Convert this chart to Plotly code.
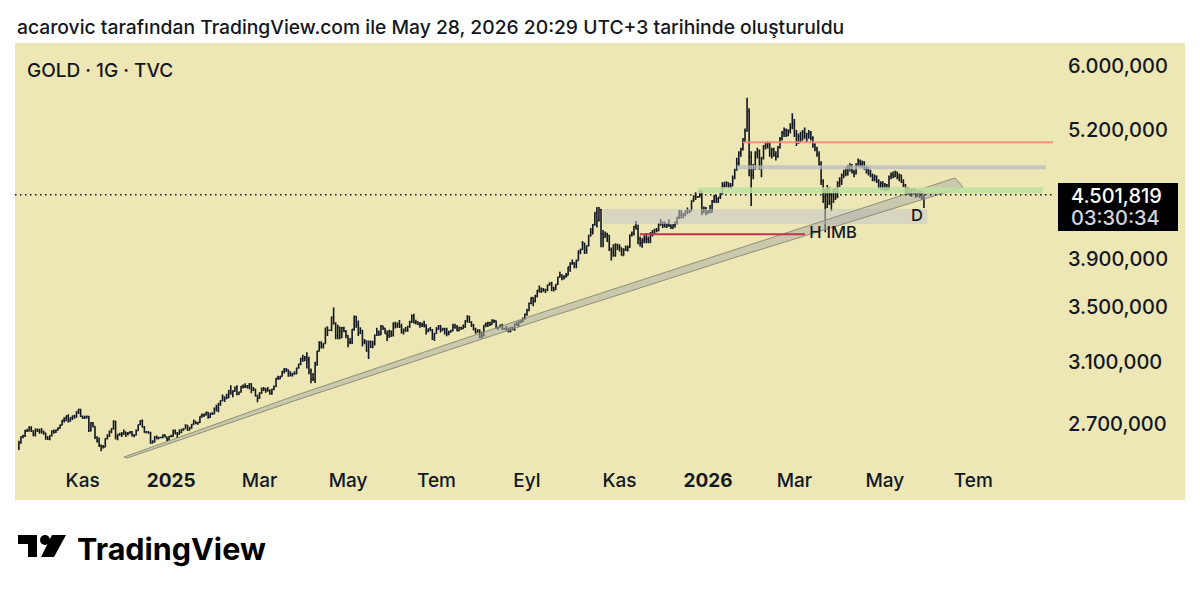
import pandas as pd
import plotly.graph_objects as go

# ---------------- data (daily OHLC, GOLD · 1G · TVC) ----------------
FIRST_DAY = "2024-09-19"
LAST_DAY = "2026-05-28"

opens = [
    2560, 2587, 2622, 2628, 2657, 2657, 2672, 2658,  # 2024-09
    2634, 2663, 2659, 2656, 2653, 2644, 2622, 2608, 2630, 2657, 2649, 2662, 2674, 2692, 2721, 2720, 2748, 2715, 2736, 2747, 2743, 2774, 2788,  # 2024-10
    2744, 2736, 2736, 2743, 2659, 2706, 2685, 2619, 2598, 2573, 2565, 2563, 2612, 2631, 2651, 2670, 2716, 2625, 2633, 2638, 2639,  # 2024-11
    2650, 2640, 2643, 2650, 2632, 2633, 2660, 2694, 2718, 2680, 2648, 2652, 2646, 2587, 2593, 2622, 2612, 2618, 2618, 2633, 2621, 2606,  # 2024-12
    2624, 2625, 2658, 2640, 2637, 2648, 2661, 2670, 2690, 2663, 2677, 2696, 2715, 2702, 2708, 2745, 2755, 2754, 2770, 2740, 2763, 2759, 2794,  # 2025-01
    2798, 2815, 2842, 2866, 2856, 2861, 2908, 2897, 2904, 2928, 2883, 2898, 2935, 2933, 2939, 2936, 2951, 2915, 2916, 2876,  # 2025-02
    2858, 2893, 2918, 2920, 2910, 2910, 2889, 2916, 2934, 2988, 2984, 3001, 3035, 3048, 3044, 3023, 3011, 3020, 3019, 3057, 3085,  # 2025-03
    3123, 3113, 3134, 3114, 3037, 2982, 2983, 3083, 3175, 3237, 3210, 3229, 3343, 3327, 3327, 3424, 3381, 3288, 3349, 3319, 3344, 3317,  # 2025-04
    3288, 3239, 3240, 3334, 3431, 3365, 3306, 3325, 3236, 3249, 3177, 3240, 3203, 3230, 3290, 3314, 3295, 3357, 3342, 3301, 3288, 3318,  # 2025-05
    3289, 3380, 3353, 3375, 3353, 3310, 3325, 3322, 3355, 3386, 3433, 3385, 3388, 3370, 3369, 3368, 3368, 3323, 3333, 3328, 3274,  # 2025-06
    3303, 3338, 3357, 3326, 3337, 3336, 3302, 3313, 3324, 3355, 3344, 3324, 3347, 3338, 3350, 3397, 3431, 3388, 3368, 3337, 3314, 3327, 3275,  # 2025-07
    3289, 3363, 3373, 3381, 3369, 3396, 3398, 3342, 3348, 3356, 3335, 3336, 3332, 3315, 3347, 3339, 3372, 3365, 3393, 3397, 3416,  # 2025-08
    3448, 3476, 3533, 3578, 3545, 3586, 3636, 3626, 3641, 3634, 3643, 3679, 3690, 3660, 3643, 3685, 3746, 3763, 3736, 3749, 3760, 3833,  # 2025-09
    3858, 3866, 3856, 3886, 3960, 3985, 4040, 3976, 4017, 4110, 4142, 4208, 4326, 4251, 4356, 4125, 4095, 4126, 4112, 3982, 3952, 3930, 4025,  # 2025-10
    4003, 4000, 3931, 3980, 3977, 4001, 4115, 4128, 4194, 4171, 4080, 4045, 4067, 4078, 4077, 4065, 4135, 4130, 4165, 4155,  # 2025-11
    4218, 4230, 4205, 4200, 4208, 4197, 4189, 4209, 4228, 4279, 4300, 4304, 4303, 4340, 4330, 4340, 4444, 4487, 4480, 4480, 4532, 4330, 4370,  # 2025-12
    4320, 4335, 4330, 4440, 4490, 4455, 4475, 4510, 4600, 4590, 4620, 4600, 4590, 4670, 4760, 4830, 4940, 4980, 5080, 5190, 5420, 4900,  # 2026-01
    4700, 4780, 4940, 4960, 4800, 4880, 5010, 5030, 5050, 4930, 4980, 4920, 4900, 5000, 5100, 5170, 5200, 5140, 5190, 5230,  # 2026-02
    5270, 5150, 5060, 5130, 5090, 5170, 5130, 5150, 5170, 5110, 5030, 4990, 4930, 4820, 4640, 4480, 4380, 4560, 4430, 4500, 4530, 4480,  # 2026-03
    4620, 4650, 4700, 4740, 4720, 4790, 4800, 4740, 4720, 4810, 4850, 4820, 4840, 4780, 4750, 4720, 4700, 4660, 4690, 4640, 4580, 4620,  # 2026-04
    4570, 4600, 4560, 4690, 4710, 4690, 4730, 4680, 4700, 4640, 4600, 4540, 4560, 4510, 4540, 4520, 4490, 4520, 4500, 4470,  # 2026-05
]

highs = [
    2600, 2625, 2634, 2664, 2670, 2685, 2685, 2660,
    2672, 2672, 2670, 2675, 2660, 2646, 2625, 2632, 2661, 2666, 2665, 2679, 2696, 2722, 2740, 2749, 2758, 2738, 2750, 2754, 2775, 2790, 2790,
    2750, 2748, 2750, 2747, 2710, 2710, 2685, 2626, 2618, 2578, 2575, 2614, 2638, 2660, 2673, 2721, 2716, 2640, 2646, 2650, 2665,
    2652, 2650, 2657, 2656, 2638, 2665, 2696, 2721, 2726, 2686, 2656, 2655, 2652, 2603, 2625, 2630, 2623, 2620, 2638, 2637, 2623, 2627,
    2634, 2665, 2665, 2650, 2665, 2670, 2675, 2697, 2692, 2680, 2698, 2725, 2715, 2710, 2746, 2763, 2762, 2773, 2772, 2764, 2770, 2799, 2817,
    2830, 2845, 2882, 2870, 2887, 2911, 2942, 2909, 2934, 2942, 2900, 2938, 2947, 2955, 2944, 2956, 2956, 2930, 2920, 2880,
    2896, 2928, 2930, 2925, 2930, 2915, 2920, 2940, 2990, 3005, 3003, 3038, 3057, 3057, 3047, 3036, 3024, 3035, 3060, 3087, 3128,
    3149, 3140, 3167, 3136, 3055, 3023, 3100, 3177, 3245, 3245, 3232, 3345, 3357, 3330, 3430, 3500, 3386, 3367, 3355, 3350, 3353, 3328,
    3290, 3270, 3335, 3437, 3435, 3400, 3348, 3330, 3263, 3251, 3252, 3252, 3250, 3295, 3345, 3324, 3365, 3360, 3345, 3325, 3330, 3325,
    3385, 3390, 3385, 3403, 3375, 3340, 3350, 3360, 3398, 3446, 3451, 3405, 3395, 3388, 3385, 3398, 3370, 3342, 3350, 3335, 3308,
    3350, 3365, 3365, 3345, 3345, 3345, 3322, 3330, 3375, 3375, 3366, 3352, 3352, 3370, 3402, 3439, 3435, 3394, 3373, 3345, 3334, 3334, 3315,
    3363, 3385, 3390, 3390, 3409, 3408, 3400, 3355, 3370, 3375, 3345, 3358, 3345, 3350, 3350, 3378, 3391, 3394, 3400, 3423, 3453,
    3490, 3540, 3578, 3580, 3600, 3640, 3675, 3660, 3655, 3650, 3685, 3703, 3707, 3665, 3686, 3749, 3791, 3770, 3762, 3780, 3834, 3871,
    3895, 3875, 3896, 3977, 3990, 4059, 4045, 4022, 4116, 4180, 4218, 4330, 4380, 4381, 4360, 4160, 4148, 4135, 4115, 4001, 4030, 4040, 4035,
    4030, 4000, 3995, 4020, 4020, 4120, 4148, 4200, 4245, 4210, 4100, 4085, 4110, 4133, 4100, 4140, 4160, 4172, 4180, 4225,
    4265, 4240, 4240, 4225, 4260, 4215, 4215, 4240, 4285, 4350, 4350, 4325, 4345, 4375, 4355, 4445, 4497, 4526, 4490, 4550, 4540, 4385, 4380,
    4350, 4400, 4450, 4500, 4500, 4480, 4520, 4630, 4635, 4640, 4630, 4620, 4700, 4770, 4890, 4960, 5000, 5110, 5220, 5590, 5460, 4960,
    4820, 4960, 5000, 4980, 4900, 5030, 5060, 5070, 5060, 5000, 5000, 4960, 5020, 5120, 5190, 5230, 5220, 5210, 5280, 5400,
    5330, 5200, 5160, 5180, 5200, 5230, 5170, 5200, 5190, 5130, 5050, 5010, 4960, 4850, 4660, 4560, 4600, 4580, 4520, 4560, 4570, 4640,
    4680, 4720, 4760, 4790, 4810, 4830, 4820, 4760, 4830, 4880, 4870, 4860, 4850, 4800, 4790, 4760, 4720, 4710, 4700, 4660, 4640, 4640,
    4620, 4610, 4700, 4730, 4740, 4750, 4740, 4720, 4710, 4660, 4610, 4580, 4570, 4560, 4570, 4560, 4540, 4550, 4540, 4510,
]

lows = [
    2547, 2582, 2614, 2622, 2650, 2654, 2650, 2625,
    2624, 2650, 2641, 2642, 2635, 2605, 2604, 2603, 2624, 2640, 2645, 2658, 2670, 2690, 2707, 2715, 2708, 2712, 2722, 2731, 2736, 2760, 2741,
    2729, 2728, 2732, 2651, 2654, 2678, 2610, 2590, 2564, 2539, 2555, 2563, 2606, 2621, 2643, 2664, 2606, 2602, 2628, 2621, 2633,
    2622, 2630, 2640, 2624, 2620, 2630, 2657, 2692, 2679, 2646, 2643, 2640, 2582, 2584, 2590, 2608, 2609, 2614, 2614, 2620, 2597, 2603,
    2620, 2623, 2636, 2615, 2635, 2644, 2658, 2670, 2656, 2660, 2670, 2694, 2697, 2694, 2705, 2737, 2741, 2750, 2730, 2735, 2753, 2758, 2775,
    2770, 2810, 2840, 2835, 2854, 2858, 2880, 2864, 2900, 2878, 2880, 2894, 2921, 2925, 2921, 2916, 2890, 2905, 2870, 2832,
    2855, 2885, 2905, 2894, 2900, 2880, 2880, 2910, 2930, 2978, 2982, 2998, 3020, 3030, 2999, 3000, 3000, 3012, 3016, 3055, 3076,
    3101, 3105, 3054, 3015, 2956, 2970, 2957, 3073, 3172, 3193, 3193, 3227, 3284, 3322, 3320, 3368, 3260, 3260, 3260, 3268, 3311, 3268,
    3202, 3225, 3226, 3322, 3345, 3285, 3298, 3208, 3224, 3170, 3120, 3197, 3195, 3215, 3284, 3285, 3290, 3328, 3300, 3246, 3270, 3277,
    3280, 3340, 3345, 3343, 3303, 3295, 3315, 3315, 3345, 3380, 3378, 3369, 3365, 3345, 3350, 3347, 3295, 3312, 3320, 3255, 3247,
    3300, 3328, 3310, 3322, 3295, 3283, 3290, 3310, 3320, 3340, 3320, 3319, 3330, 3335, 3345, 3385, 3380, 3350, 3325, 3300, 3310, 3268, 3268,
    3280, 3348, 3350, 3358, 3367, 3380, 3340, 3331, 3345, 3330, 3331, 3322, 3311, 3312, 3327, 3322, 3360, 3350, 3380, 3386, 3405,
    3436, 3470, 3525, 3510, 3540, 3580, 3620, 3615, 3625, 3615, 3630, 3675, 3630, 3628, 3640, 3682, 3740, 3719, 3725, 3741, 3758, 3790,
    3850, 3820, 3820, 3884, 3942, 3980, 3944, 3946, 4010, 4100, 4120, 4200, 4185, 4240, 4004, 4003, 4090, 4050, 3970, 3886, 3920, 3920, 3980,
    3965, 3928, 3930, 3970, 3965, 4000, 4100, 4110, 4165, 4030, 4010, 4000, 4040, 4040, 4040, 4040, 4100, 4120, 4140, 4150,
    4200, 4180, 4185, 4180, 4190, 4170, 4170, 4185, 4215, 4265, 4270, 4270, 4290, 4310, 4320, 4340, 4430, 4450, 4470, 4475, 4300, 4320, 4300,
    4310, 4320, 4325, 4420, 4420, 4420, 4460, 4505, 4570, 4580, 4570, 4560, 4590, 4660, 4750, 4800, 4900, 4970, 5060, 5180, 4690, 4390,
    4660, 4760, 4880, 4760, 4680, 4870, 4980, 4990, 4900, 4880, 4900, 4860, 4890, 4990, 5080, 5120, 5120, 5130, 5160, 5210,
    5120, 5020, 5040, 5060, 5080, 5100, 5060, 5100, 5080, 5000, 4960, 4900, 4800, 4600, 4420, 4140, 4370, 4400, 4340, 4420, 4450, 4470,
    4580, 4600, 4670, 4690, 4700, 4740, 4720, 4680, 4710, 4790, 4790, 4780, 4760, 4720, 4700, 4680, 4640, 4640, 4620, 4560, 4550, 4550,
    4540, 4540, 4550, 4660, 4670, 4680, 4660, 4640, 4620, 4580, 4520, 4500, 4490, 4480, 4500, 4470, 4480, 4470, 4450, 4370,
]

closes = [
    2587, 2622, 2628, 2657, 2657, 2672, 2658, 2634,
    2663, 2659, 2656, 2653, 2644, 2622, 2608, 2630, 2657, 2649, 2662, 2674, 2692, 2721, 2720, 2748, 2715, 2736, 2747, 2743, 2774, 2788, 2744,
    2736, 2736, 2743, 2659, 2706, 2685, 2619, 2598, 2573, 2565, 2563, 2612, 2631, 2651, 2670, 2716, 2625, 2633, 2638, 2639, 2650,
    2640, 2643, 2650, 2632, 2633, 2660, 2694, 2718, 2680, 2648, 2652, 2646, 2587, 2593, 2622, 2612, 2618, 2618, 2633, 2621, 2606, 2624,
    2625, 2658, 2640, 2637, 2648, 2661, 2670, 2690, 2663, 2677, 2696, 2715, 2702, 2708, 2745, 2755, 2754, 2770, 2740, 2763, 2759, 2794, 2798,
    2815, 2842, 2866, 2856, 2861, 2908, 2897, 2904, 2928, 2883, 2898, 2935, 2933, 2939, 2936, 2951, 2915, 2916, 2876, 2858,
    2893, 2918, 2920, 2910, 2910, 2889, 2916, 2934, 2988, 2984, 3001, 3035, 3048, 3044, 3023, 3011, 3020, 3019, 3057, 3085, 3123,
    3113, 3134, 3114, 3037, 2982, 2983, 3083, 3175, 3237, 3210, 3229, 3343, 3327, 3327, 3424, 3381, 3288, 3349, 3319, 3344, 3317, 3288,
    3239, 3240, 3334, 3431, 3365, 3306, 3325, 3236, 3249, 3177, 3240, 3203, 3230, 3290, 3314, 3295, 3357, 3342, 3301, 3288, 3318, 3289,
    3380, 3353, 3375, 3353, 3310, 3325, 3322, 3355, 3386, 3433, 3385, 3388, 3370, 3369, 3368, 3368, 3323, 3333, 3328, 3274, 3303,
    3338, 3357, 3326, 3337, 3336, 3302, 3313, 3324, 3355, 3344, 3324, 3347, 3338, 3350, 3397, 3431, 3388, 3368, 3337, 3314, 3327, 3275, 3289,
    3363, 3373, 3381, 3369, 3396, 3398, 3342, 3348, 3356, 3335, 3336, 3332, 3315, 3347, 3339, 3372, 3365, 3393, 3397, 3416, 3448,
    3476, 3533, 3578, 3545, 3586, 3636, 3626, 3641, 3634, 3643, 3679, 3690, 3660, 3643, 3685, 3746, 3763, 3736, 3749, 3760, 3833, 3858,
    3866, 3856, 3886, 3960, 3985, 4040, 3976, 4017, 4110, 4142, 4208, 4326, 4251, 4356, 4125, 4095, 4126, 4112, 3982, 3952, 3930, 4025, 4003,
    4000, 3931, 3980, 3977, 4001, 4115, 4128, 4194, 4171, 4080, 4045, 4067, 4078, 4077, 4065, 4135, 4130, 4165, 4155, 4218,
    4230, 4205, 4200, 4208, 4197, 4189, 4209, 4228, 4279, 4300, 4304, 4303, 4340, 4330, 4340, 4444, 4487, 4480, 4480, 4532, 4330, 4370, 4320,
    4335, 4330, 4440, 4490, 4455, 4475, 4510, 4600, 4590, 4620, 4600, 4590, 4670, 4760, 4830, 4940, 4980, 5080, 5190, 5420, 4900, 4700,
    4780, 4940, 4960, 4800, 4880, 5010, 5030, 5050, 4930, 4980, 4920, 4900, 5000, 5100, 5170, 5200, 5140, 5190, 5230, 5270,
    5150, 5060, 5130, 5090, 5170, 5130, 5150, 5170, 5110, 5030, 4990, 4930, 4820, 4640, 4480, 4380, 4560, 4430, 4500, 4530, 4480, 4620,
    4650, 4700, 4740, 4720, 4790, 4800, 4740, 4720, 4810, 4850, 4820, 4840, 4780, 4750, 4720, 4700, 4660, 4690, 4640, 4580, 4620, 4570,
    4600, 4560, 4690, 4710, 4690, 4730, 4680, 4700, 4640, 4600, 4540, 4560, 4510, 4540, 4520, 4490, 4520, 4500, 4470, 4501.819,
]

LAST_PRICE = 4501.819
LAST_PRICE_TEXT = "4.501,819"
COUNTDOWN = "03:30:34"

x_tick_dates = ["2024-11-01", "2025-01-01", "2025-03-03", "2025-05-01", "2025-07-01", "2025-09-01",
                "2025-11-03", "2026-01-01", "2026-03-02", "2026-05-01", "2026-07-01"]
x_tick_text = ["Kas", "<b>2025</b>", "Mar", "May", "Tem", "Eyl", "Kas", "<b>2026</b>", "Mar", "May", "Tem"]
price_ticks = [2700, 3100, 3500, 3900, 5200, 6000]
price_tick_text = ["2.700,000", "3.100,000", "3.500,000", "3.900,000", "5.200,000", "6.000,000"]

# chart drawings (date / price anchors)
red_level = {"x": ["2026-01-26", "2026-08-24 17:00"], "y": 5060}
gray_level = {"x": ["2026-01-21", "2026-08-19 07:00"], "y": 4787}
green_level = {"x": ["2025-12-25 02:00", "2026-08-17 21:00"], "y": 4547}
imb_level = {"x": ["2025-11-14 21:00", "2026-03-09 05:00"], "y": 4122}
zone_x = ["2025-10-22", "2026-05-29 12:00"]
zone_y = [4218, 4361]
band_x = ["2024-11-29 04:00", "2025-03-28 17:00", "2025-09-09 10:00", "2026-01-22 13:00", "2026-06-18 02:00",
          "2026-06-24", "2026-01-22 13:00", "2025-09-09 10:00", "2025-03-28 17:00", "2024-12-02 14:00", "2024-11-29 04:00"]
band_y = [2507, 2886, 3457, 3997, 4673, 4580, 3927, 3404, 2854, 2501, 2507]
labels_text = ["H", "IMB", "D"]
labels_x = ["2026-03-16 06:00", "2026-04-02 00:00", "2026-05-22 14:00"]
labels_y = [4124, 4124, 4284]

X_RANGE = ["2024-09-17 02:24", "2026-08-25 17:00"]
Y_RANGE_LOG = [3.39622, 3.80045]

# ---------------- figure ----------------
dates = pd.bdate_range(FIRST_DAY, LAST_DAY)
assert len(dates) == len(opens) == len(highs) == len(lows) == len(closes), (
    len(dates), len(opens), len(highs), len(lows), len(closes))

W, H = 1200, 594
LM, RM, TM, BM = 15, 145, 43, 134
PW, PH = W - LM - RM, H - TM - BM


def px(x):
    return (x - LM) / PW


def py(y):
    return (H - BM - y) / PH


BG = "#ECE7B5"
INK = "#131722"
FONT = "Inter"

fig = go.Figure()

fig.add_trace(go.Ohlc(
    x=dates, open=opens, high=highs, low=lows, close=closes,
    increasing=dict(line=dict(color=INK, width=1.6)),
    decreasing=dict(line=dict(color=INK, width=1.6)),
    tickwidth=0.45, hoverinfo="skip", showlegend=False,
))

# zone rectangle
fig.add_trace(go.Scatter(
    x=[zone_x[0], zone_x[1], zone_x[1], zone_x[0], zone_x[0]],
    y=[zone_y[0], zone_y[0], zone_y[1], zone_y[1], zone_y[0]],
    mode="lines", fill="toself", fillcolor="rgba(200,200,200,0.55)",
    line=dict(width=0), hoverinfo="skip", showlegend=False,
))

# trend band
fig.add_trace(go.Scatter(
    x=band_x, y=band_y, mode="lines", fill="toself",
    fillcolor="rgba(175,175,165,0.55)", line=dict(color="rgba(135,135,110,0.9)", width=1),
    hoverinfo="skip", showlegend=False,
))

for lvl, color, width in [(green_level, "rgba(190,225,160,0.85)", 6),
                          (gray_level, "rgba(185,190,195,0.75)", 4),
                          (red_level, "rgba(242,140,120,0.9)", 2),
                          (imb_level, "#C2334D", 2)]:
    fig.add_trace(go.Scatter(
        x=lvl["x"], y=[lvl["y"], lvl["y"]], mode="lines",
        line=dict(color=color, width=width), hoverinfo="skip", showlegend=False,
    ))

# last price dotted line
fig.add_trace(go.Scatter(
    x=X_RANGE, y=[LAST_PRICE, LAST_PRICE], mode="lines",
    line=dict(color=INK, width=1.5, dash="1.5px,3.5px"),
    hoverinfo="skip", showlegend=False,
))

fig.add_trace(go.Scatter(
    x=labels_x, y=labels_y, mode="text", text=labels_text,
    textfont=dict(family=FONT, size=16.5, color=INK, weight=500), textposition="middle center",
    hoverinfo="skip", showlegend=False,
))

shapes = [
    dict(type="rect", xref="paper", yref="paper", x0=px(15), x1=px(1185), y0=py(500), y1=py(43),
         fillcolor=BG, line=dict(width=0), layer="below"),
    dict(type="rect", xref="paper", yref="paper", x0=px(1058), x1=px(1178), y0=py(231), y1=py(183),
         fillcolor="#000000", line=dict(width=0)),
    # TradingView logo mark
    dict(type="path", xref="paper", yref="paper",
         path=f"M {px(18)} {py(535)} L {px(37)} {py(535)} L {px(37)} {py(557)} L {px(28)} {py(557)} "
              f"L {px(28)} {py(544)} L {px(18)} {py(544)} Z",
         fillcolor="#000000", line=dict(width=0)),
    dict(type="circle", xref="paper", yref="paper", x0=px(40), x1=px(50), y0=py(545), y1=py(535),
         fillcolor="#000000", line=dict(width=0)),
    dict(type="path", xref="paper", yref="paper",
         path=f"M {px(52)} {py(535)} L {px(66)} {py(535)} L {px(54)} {py(557)} L {px(41)} {py(557)} Z",
         fillcolor="#000000", line=dict(width=0)),
]

annotations = [
    dict(xref="paper", yref="paper", x=px(15), y=py(27), xanchor="left", yanchor="middle",
         text="acarovic tarafından TradingView.com ile May 28, 2026 20:29 UTC+3 tarihinde oluşturuldu",
         showarrow=False, font=dict(family=FONT, size=19.3, color=INK, weight=500)),
    dict(xref="paper", yref="paper", x=px(25), y=py(70), xanchor="left", yanchor="middle",
         text="GOLD · 1G · TVC", showarrow=False, font=dict(family=FONT, size=19, color=INK, weight=500)),
    dict(xref="paper", yref="paper", x=px(1069), y=py(196), xanchor="left", yanchor="middle",
         text=LAST_PRICE_TEXT, showarrow=False, font=dict(family=FONT, size=20, color="#FFFFFF", weight=500)),
    dict(xref="paper", yref="paper", x=px(1069), y=py(218), xanchor="left", yanchor="middle",
         text=COUNTDOWN, showarrow=False, font=dict(family=FONT, size=20, color="#D1D4DC", weight=500)),
    dict(xref="paper", yref="paper", x=px(75), y=py(548), xanchor="left", yanchor="middle",
         text="<b>TradingView</b>", showarrow=False, font=dict(family=FONT, size=30.5, color="#000000")),
]

fig.update_layout(
    width=W, height=H, autosize=False,
    margin=dict(l=LM, r=RM, t=TM, b=BM, pad=0),
    paper_bgcolor="#FFFFFF", plot_bgcolor="rgba(0,0,0,0)",
    showlegend=False, shapes=shapes, annotations=annotations,
    font=dict(family=FONT, color=INK),
    xaxis=dict(
        type="date", range=X_RANGE, rangebreaks=[dict(bounds=["sat", "mon"])],
        tickvals=x_tick_dates, ticktext=x_tick_text, ticks="", showgrid=False, zeroline=False,
        showline=False, rangeslider=dict(visible=False),
        tickfont=dict(family=FONT, size=19, color=INK, weight=500),
        ticklabelstandoff=7, fixedrange=True,
    ),
    yaxis=dict(
        type="log", side="right", range=Y_RANGE_LOG, tickvals=price_ticks, ticktext=price_tick_text,
        ticks="", showgrid=False, zeroline=False, showline=False,
        tickfont=dict(family=FONT, size=20, color=INK, weight=500), ticklabelstandoff=12, fixedrange=True,
    ),
)

fig.write_html("out.html")
